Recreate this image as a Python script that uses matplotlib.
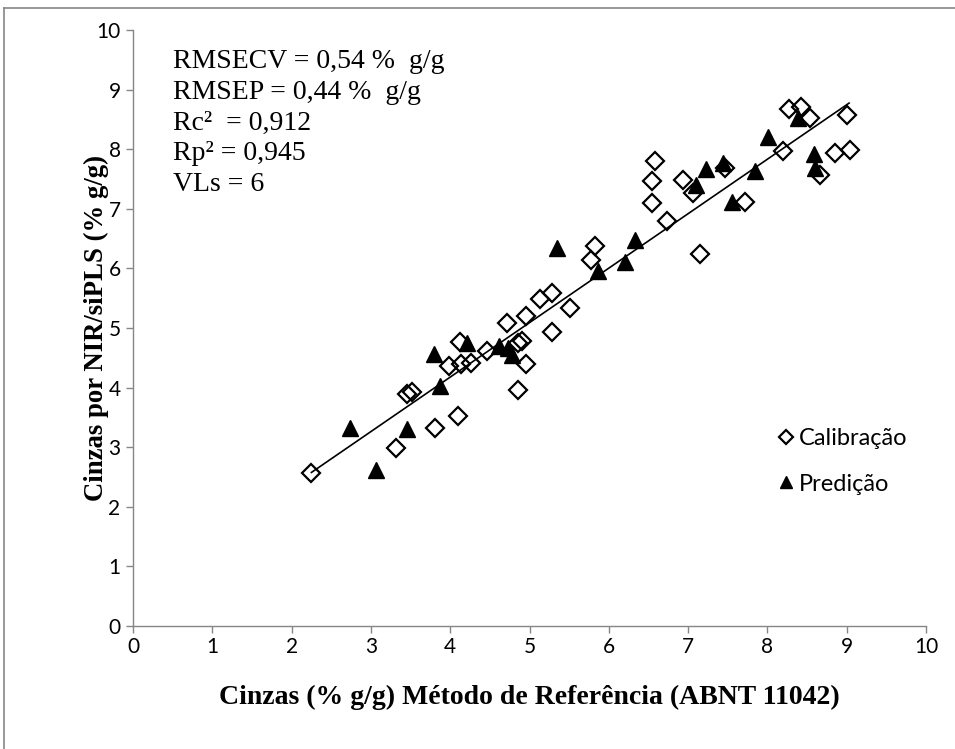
import matplotlib
matplotlib.use("Agg")
import matplotlib.pyplot as plt
from matplotlib.lines import Line2D
import numpy as np

# ---- data ----
cal_x = [2.25, 3.32, 3.45, 3.52, 3.81, 3.98, 4.10, 4.12, 4.13, 4.26,
         4.46, 4.71, 4.85, 4.86, 4.90, 4.96, 4.96, 5.13, 5.28, 5.29,
         5.51, 5.78, 5.82, 6.54, 6.55, 6.58, 6.73, 6.94, 7.06, 7.15,
         7.47, 7.72, 8.20, 8.27, 8.42, 8.54, 8.66, 8.85, 9.00, 9.04]
cal_y = [2.57, 2.99, 3.90, 3.92, 3.32, 4.37, 3.53, 4.77, 4.39, 4.42,
         4.61, 5.09, 3.96, 4.74, 4.79, 4.40, 5.20, 5.49, 4.93, 5.59,
         5.33, 6.14, 6.38, 7.10, 7.46, 7.81, 6.80, 7.48, 7.26, 6.25,
         7.69, 7.12, 7.97, 8.68, 8.70, 8.52, 7.56, 7.93, 8.58, 7.99]

pred_x = [2.74, 3.07, 3.45, 3.79, 3.87, 4.21, 4.61, 4.73, 4.78, 5.35,
          5.86, 6.20, 6.33, 7.10, 7.23, 7.44, 7.55, 7.84, 8.01, 8.39,
          8.59, 8.60]
pred_y = [3.33, 2.62, 3.30, 4.57, 4.03, 4.74, 4.69, 4.66, 4.55, 6.34,
          5.95, 6.11, 6.48, 7.40, 7.66, 7.77, 7.11, 7.63, 8.20, 8.53,
          7.92, 7.69]

fit_x = [2.25, 9.03]
fit_slope = 0.914
fit_intercept = 0.52

x_ticks = list(range(0, 11))
y_ticks = list(range(0, 11))

stats_lines = ["RMSECV = 0,54 %  g/g",
               "RMSEP = 0,44 %  g/g",
               "Rc\u00b2  = 0,912",
               "Rp\u00b2 = 0,945",
               "VLs = 6"]

x_label = "Cinzas (% g/g) Método de Referência (ABNT 11042)"
y_label = "Cinzas por NIR/siPLS (% g/g)"

# ---- figure ----
W, H = 955, 749
fig = plt.figure(figsize=(W / 100, H / 100), dpi=100)
ax = fig.add_axes([133 / W, 1 - 626 / H, (926 - 133) / W, (626 - 30) / H])

gray = "#868686"
ax.plot(cal_x, cal_y, linestyle="none", marker="D", markersize=9.2,
        markerfacecolor="none", markeredgecolor="black", markeredgewidth=1.6,
        label="Calibração", zorder=3)
ax.plot(pred_x, pred_y, linestyle="none", marker="^", markersize=11.5,
        markerfacecolor="black", markeredgecolor="black",
        label="Predição", zorder=4)
fx = np.array(fit_x)
ax.plot(fx, fit_slope * fx + fit_intercept, color="black", linewidth=1.2, zorder=5)

ax.set_xlim(0, 10)
ax.set_ylim(0, 10)
ax.set_xticks(x_ticks)
ax.set_yticks(y_ticks)
ax.set_xticklabels([str(t) for t in x_ticks])
ax.set_yticklabels([str(t) for t in y_ticks])

for s in ["top", "right"]:
    ax.spines[s].set_visible(False)
for s in ["left", "bottom"]:
    ax.spines[s].set_color(gray)
    ax.spines[s].set_linewidth(1.0)
ax.tick_params(axis="both", direction="out", length=5, width=1.0, color=gray,
               labelsize=15)
ax.tick_params(axis="x", pad=3)
ax.tick_params(axis="y", pad=4)
for lab in ax.get_xticklabels() + ax.get_yticklabels():
    lab.set_family("Lato")
    lab.set_color("black")

xl = ax.set_xlabel(x_label, family="Liberation Serif", fontweight="bold",
                   fontsize=20, va="center")
yl = ax.set_ylabel(y_label, family="Liberation Serif", fontweight="bold",
                   fontsize=19.3, va="center")
ax.xaxis.set_label_coords(0.5, (626 - 697) / 596)
ax.yaxis.set_label_coords((96 - 133) / 793, 0.5)

ax.text(0.051, 0.968, "\n".join(stats_lines), transform=ax.transAxes,
        family="Liberation Serif", fontsize=20, va="top", ha="left",
        linespacing=1.3)

leg = ax.legend(loc="upper left", bbox_to_anchor=(0.783, 0.368), frameon=False,
                prop={"family": "Lato", "size": 17}, handletextpad=0.1,
                handlelength=0.9, labelspacing=1.05, markerscale=0.8)

# outer gray border (top and left visible)
fig.add_artist(Line2D([4 / W, 4 / W], [0, 1 - 8 / H], color=gray, linewidth=1.2,
                      transform=fig.transFigure))
fig.add_artist(Line2D([4 / W, 1], [1 - 8 / H, 1 - 8 / H], color=gray, linewidth=1.2,
                      transform=fig.transFigure))

fig.savefig("out.png", dpi=100)
